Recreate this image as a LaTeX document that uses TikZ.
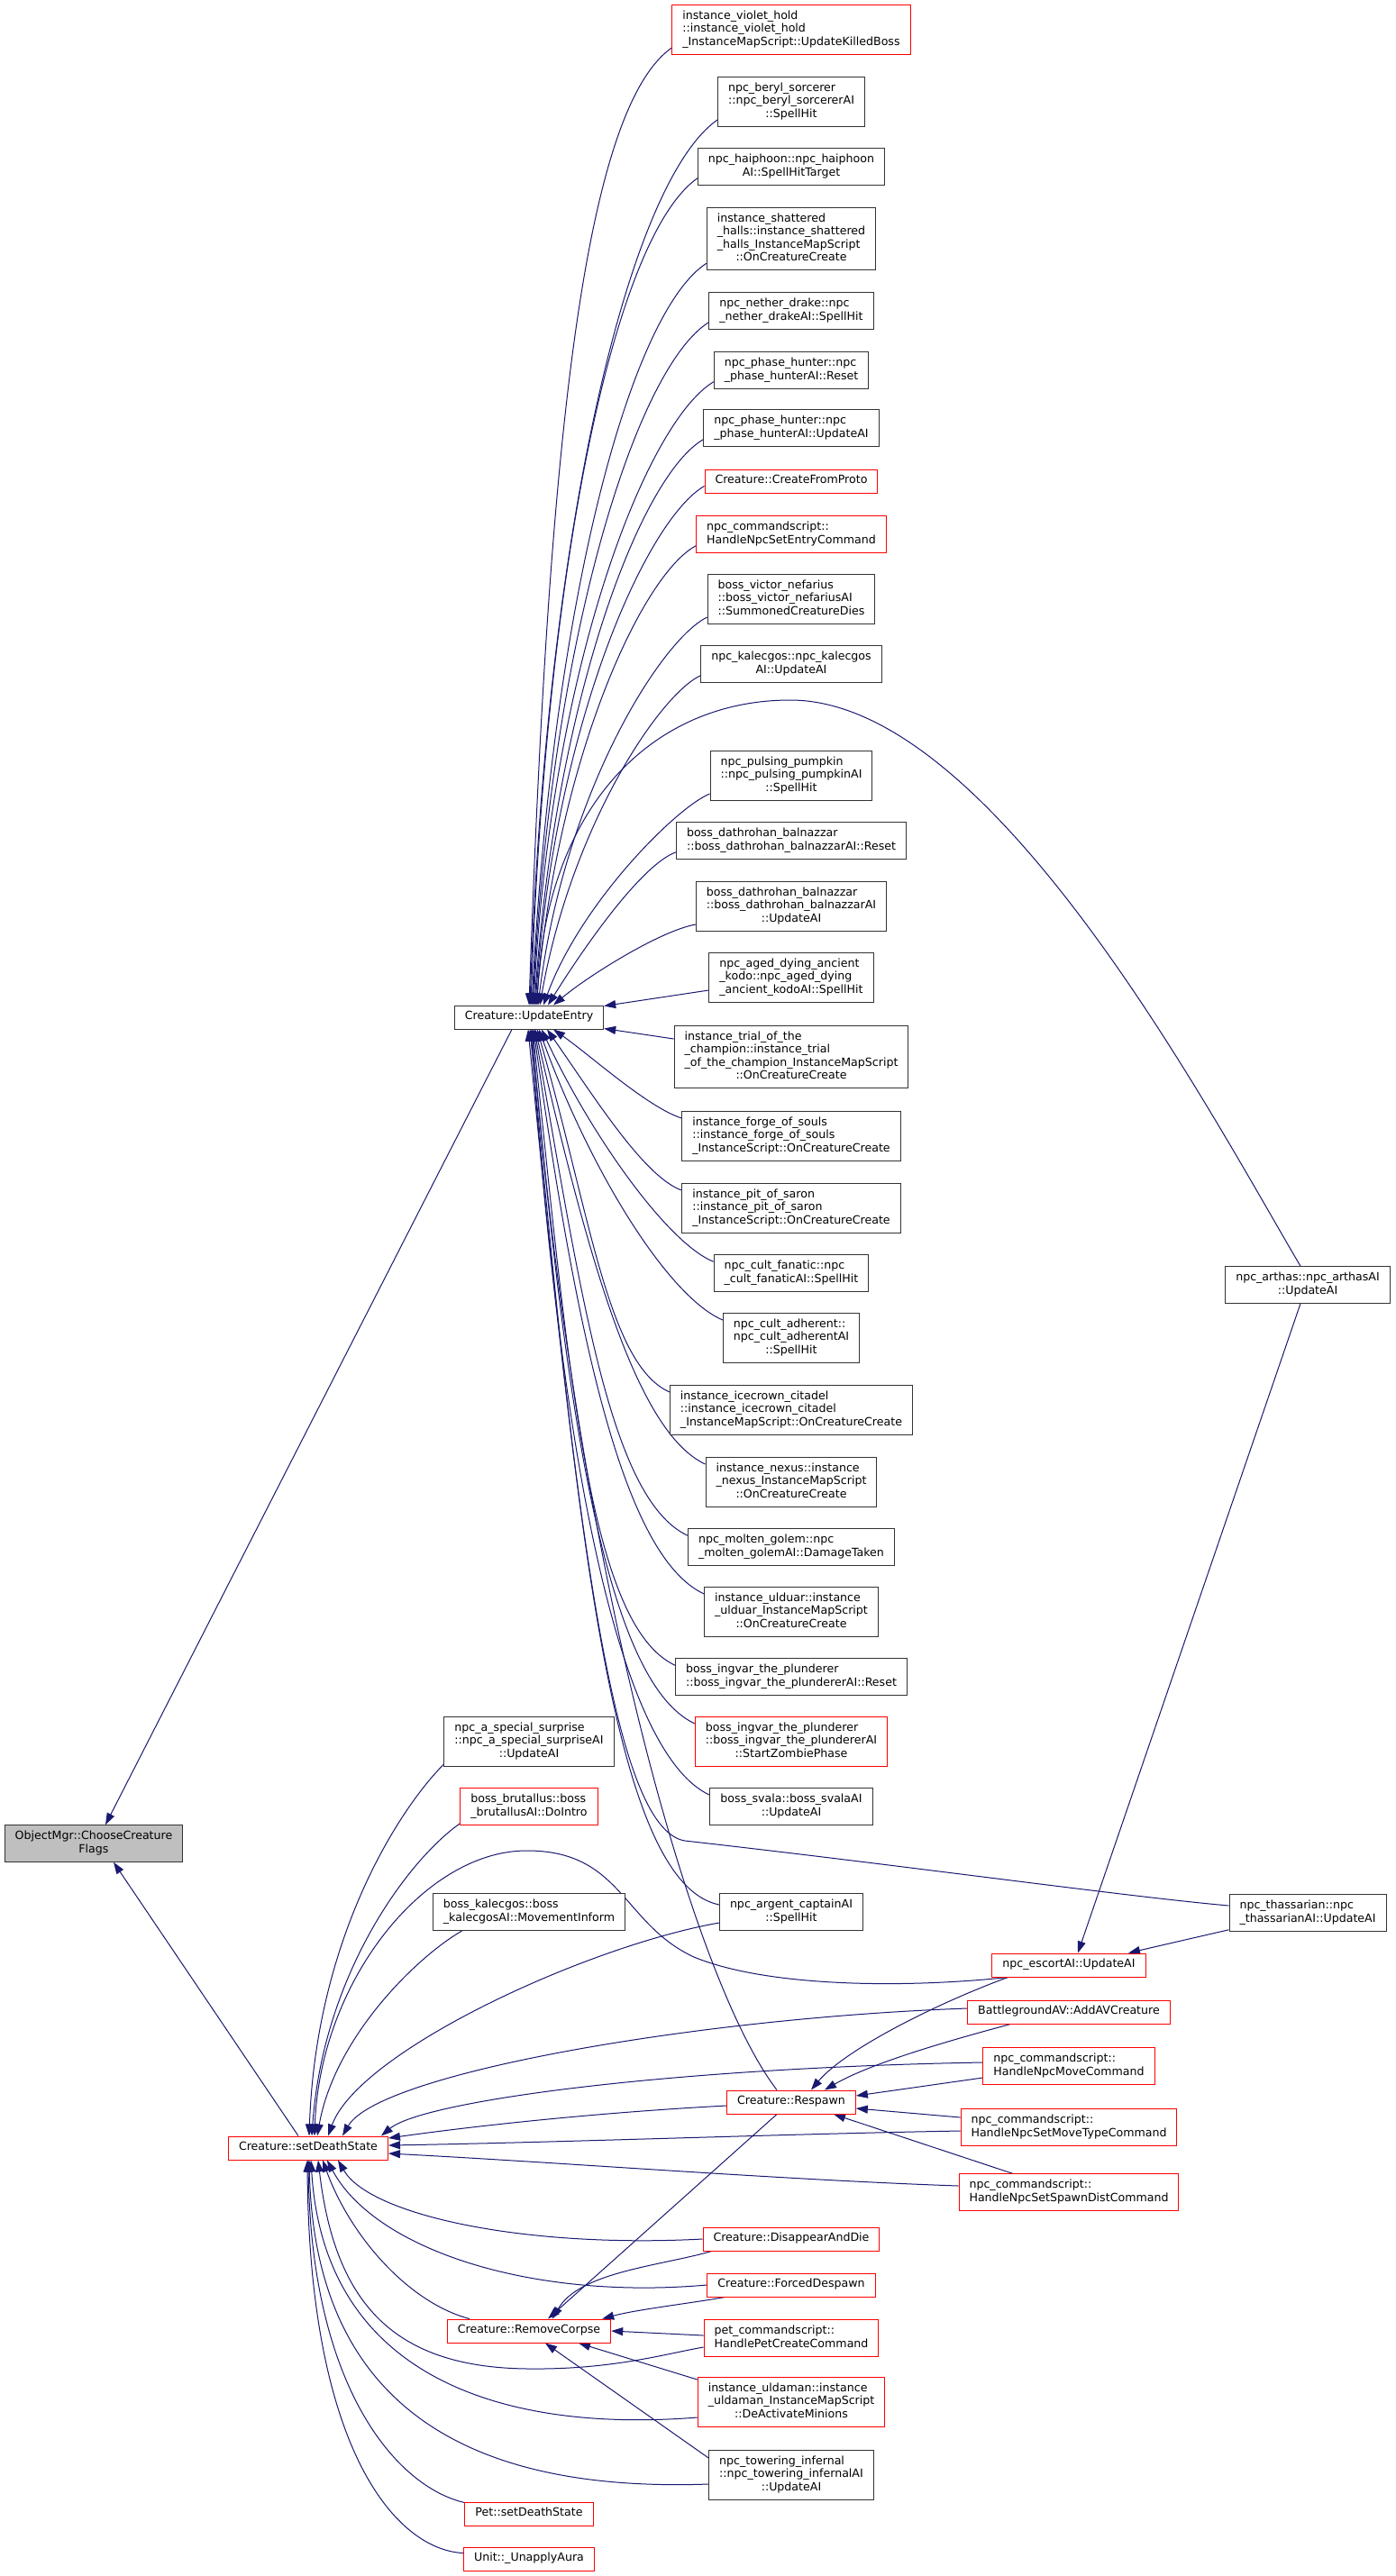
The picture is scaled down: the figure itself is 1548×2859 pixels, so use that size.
\documentclass[tikz,border=0pt]{standalone}
\usepackage{fontspec}
\setmainfont{DejaVu Sans}
\usepackage{tikz}
\usetikzlibrary{arrows.meta}
\definecolor{edgeblue}{RGB}{25,25,112}
\definecolor{boxgray}{RGB}{191,191,191}
\definecolor{boxred}{RGB}{255,0,0}
\newcommand{\nodefont}{\fontsize{12.6}{14.5}\selectfont}
\newcommand{\lbl}[1]{\begin{tabular}{@{}l@{}}#1\end{tabular}}
\newcommand{\lastl}[1]{\multicolumn{1}{@{}c@{}}{#1}}
\pgfdeclarelayer{bg}
\pgfsetlayers{bg,main}
\tikzset{
  fn/.style={draw=black!80, line width=1pt, fill=white, inner xsep=11.5pt, inner ysep=5.75pt, font=\nodefont},
  fnred/.style={fn, draw=boxred},
  fnroot/.style={fn, fill=boxgray},
  link/.style={draw=edgeblue, line width=1pt, {Triangle[length=13pt,width=9pt]}-}
}
\begin{document}
\begin{tikzpicture}[x=1pt,y=1pt]
  \useasboundingbox (0,0) rectangle (1548,-2859);
  % ranks 0 to 2
  \node[fnroot] (choose) at (104,-2046) {\lbl{ObjectMgr::ChooseCreature\\\lastl{Flags}}};
  \node[fnred] (setdeath) at (342,-2384) {\lbl{Creature::setDeathState}};
  \node[fn] (updentry) at (587,-1129) {\lbl{Creature::UpdateEntry}};
  \node[fn] (surprise) at (587,-1933) {\lbl{npc\_a\_special\_surprise\\::npc\_a\_special\_surpriseAI\\\lastl{::UpdateAI}}};
  \node[fnred] (brutallus) at (587,-2005) {\lbl{boss\_brutallus::boss\\\lastl{\_brutallusAI::DoIntro}}};
  \node[fn] (kalecmove) at (587,-2122) {\lbl{boss\_kalecgos::boss\\\lastl{\_kalecgosAI::MovementInform}}};
  \node[fnred] (removecorpse) at (587,-2587) {\lbl{Creature::RemoveCorpse}};
  \node[fnred] (petdeath) at (587,-2790) {\lbl{Pet::setDeathState}};
  \node[fnred] (unapply) at (587,-2840) {\lbl{Unit::\_UnapplyAura}};
  % rank 3
  \node[fnred] (violet) at (878,-33) {\lbl{instance\_violet\_hold\\::instance\_violet\_hold\\\lastl{\_InstanceMapScript::UpdateKilledBoss}}};
  \node[fn] (beryl) at (878,-113) {\lbl{npc\_beryl\_sorcerer\\::npc\_beryl\_sorcererAI\\\lastl{::SpellHit}}};
  \node[fn] (haiphoon) at (878,-185) {\lbl{npc\_haiphoon::npc\_haiphoon\\\lastl{AI::SpellHitTarget}}};
  \node[fn] (shattered) at (878,-265) {\lbl{instance\_shattered\\\_halls::instance\_shattered\\\_halls\_InstanceMapScript\\\lastl{::OnCreatureCreate}}};
  \node[fn] (nether) at (878,-345) {\lbl{npc\_nether\_drake::npc\\\lastl{\_nether\_drakeAI::SpellHit}}};
  \node[fn] (phasereset) at (878,-411) {\lbl{npc\_phase\_hunter::npc\\\lastl{\_phase\_hunterAI::Reset}}};
  \node[fn] (phaseupd) at (878,-475) {\lbl{npc\_phase\_hunter::npc\\\lastl{\_phase\_hunterAI::UpdateAI}}};
  \node[fnred] (fromproto) at (878,-534) {\lbl{Creature::CreateFromProto}};
  \node[fnred] (setentry) at (878,-593) {\lbl{npc\_commandscript::\\\lastl{HandleNpcSetEntryCommand}}};
  \node[fn] (victor) at (878,-665) {\lbl{boss\_victor\_nefarius\\::boss\_victor\_nefariusAI\\\lastl{::SummonedCreatureDies}}};
  \node[fn] (kalecupd) at (878,-737) {\lbl{npc\_kalecgos::npc\_kalecgos\\\lastl{AI::UpdateAI}}};
  \node[fn] (pumpkin) at (878,-861) {\lbl{npc\_pulsing\_pumpkin\\::npc\_pulsing\_pumpkinAI\\\lastl{::SpellHit}}};
  \node[fn] (dathreset) at (878,-933) {\lbl{boss\_dathrohan\_balnazzar\\\lastl{::boss\_dathrohan\_balnazzarAI::Reset}}};
  \node[fn] (dathupd) at (878,-1006) {\lbl{boss\_dathrohan\_balnazzar\\::boss\_dathrohan\_balnazzarAI\\\lastl{::UpdateAI}}};
  \node[fn] (kodo) at (878,-1085) {\lbl{npc\_aged\_dying\_ancient\\\_kodo::npc\_aged\_dying\\\lastl{\_ancient\_kodoAI::SpellHit}}};
  \node[fn] (trial) at (878,-1173) {\lbl{instance\_trial\_of\_the\\\_champion::instance\_trial\\\_of\_the\_champion\_InstanceMapScript\\\lastl{::OnCreatureCreate}}};
  \node[fn] (forge) at (878,-1261) {\lbl{instance\_forge\_of\_souls\\::instance\_forge\_of\_souls\\\lastl{\_InstanceScript::OnCreatureCreate}}};
  \node[fn] (saron) at (878,-1341) {\lbl{instance\_pit\_of\_saron\\::instance\_pit\_of\_saron\\\lastl{\_InstanceScript::OnCreatureCreate}}};
  \node[fn] (fanatic) at (878,-1413) {\lbl{npc\_cult\_fanatic::npc\\\lastl{\_cult\_fanaticAI::SpellHit}}};
  \node[fn] (adherent) at (878,-1485) {\lbl{npc\_cult\_adherent::\\npc\_cult\_adherentAI\\\lastl{::SpellHit}}};
  \node[fn] (icecrown) at (878,-1565) {\lbl{instance\_icecrown\_citadel\\::instance\_icecrown\_citadel\\\lastl{\_InstanceMapScript::OnCreatureCreate}}};
  \node[fn] (nexus) at (878,-1645) {\lbl{instance\_nexus::instance\\\_nexus\_InstanceMapScript\\\lastl{::OnCreatureCreate}}};
  \node[fn] (golem) at (878,-1717) {\lbl{npc\_molten\_golem::npc\\\lastl{\_molten\_golemAI::DamageTaken}}};
  \node[fn] (ulduar) at (878,-1789) {\lbl{instance\_ulduar::instance\\\_ulduar\_InstanceMapScript\\\lastl{::OnCreatureCreate}}};
  \node[fn] (ingvarreset) at (878,-1861) {\lbl{boss\_ingvar\_the\_plunderer\\\lastl{::boss\_ingvar\_the\_plundererAI::Reset}}};
  \node[fnred] (ingvarzombie) at (878,-1933) {\lbl{boss\_ingvar\_the\_plunderer\\::boss\_ingvar\_the\_plundererAI\\\lastl{::StartZombiePhase}}};
  \node[fn] (svala) at (878,-2005) {\lbl{boss\_svala::boss\_svalaAI\\\lastl{::UpdateAI}}};
  \node[fn] (argent) at (878,-2122) {\lbl{npc\_argent\_captainAI\\\lastl{::SpellHit}}};
  \node[fnred] (respawn) at (878,-2333) {\lbl{Creature::Respawn}};
  \node[fnred] (disappear) at (878,-2485) {\lbl{Creature::DisappearAndDie}};
  \node[fnred] (despawn) at (878,-2536) {\lbl{Creature::ForcedDespawn}};
  \node[fnred] (petcreate) at (878,-2595) {\lbl{pet\_commandscript::\\\lastl{HandlePetCreateCommand}}};
  \node[fnred] (uldaman) at (878,-2666) {\lbl{instance\_uldaman::instance\\\_uldaman\_InstanceMapScript\\\lastl{::DeActivateMinions}}};
  \node[fn] (infernal) at (878,-2747) {\lbl{npc\_towering\_infernal\\::npc\_towering\_infernalAI\\\lastl{::UpdateAI}}};
  % ranks 4 and 5
  \node[fnred] (escort) at (1186,-2181) {\lbl{npc\_escortAI::UpdateAI}};
  \node[fnred] (addav) at (1186,-2233) {\lbl{BattlegroundAV::AddAVCreature}};
  \node[fnred] (npcmove) at (1186,-2293) {\lbl{npc\_commandscript::\\\lastl{HandleNpcMoveCommand}}};
  \node[fnred] (movetype) at (1186,-2361) {\lbl{npc\_commandscript::\\\lastl{HandleNpcSetMoveTypeCommand}}};
  \node[fnred] (spawndist) at (1186,-2433) {\lbl{npc\_commandscript::\\\lastl{HandleNpcSetSpawnDistCommand}}};
  \node[fn] (arthas) at (1451,-1426) {\lbl{npc\_arthas::npc\_arthasAI\\\lastl{::UpdateAI}}};
  \node[fn] (thassarian) at (1451,-2123) {\lbl{npc\_thassarian::npc\\\lastl{\_thassarianAI::UpdateAI}}};
  \begin{pgfonlayer}{bg}
  \fill[white] (0,0) rectangle (1548,-2859);
  % callers of Creature::UpdateEntry
  \foreach \src/\dx/\ao/\ai/\D/\E in {violet/0/88/215/585/125, beryl/1/88/215/540/118, haiphoon/2/88/215/505/110,
      shattered/3/87/213/453/100, nether/4/87/212/417/93, phasereset/5/87/211/381/86, phaseupd/6/86/210/346/79,
      fromproto/7/86/210/317/73, setentry/8/85/208/281/66, victor/10/83/206/237/57, kalecupd/12/80/205/202/50,
      pumpkin/16/70/202/120/40, dathreset/21/58/200/80/40, dathupd/27/40/190/50/40}
    \draw[link] ([xshift=\dx pt]updentry.north) .. controls +(\ao:\D) and +(\ai:\E) .. ([yshift=8pt]\src.south west);
  \foreach \src/\dx/\ao/\ai/\D/\E in {forge/27/-35/162/50/40, saron/20/-55/160/90/45, fanatic/14/-65/158/130/55,
      adherent/11/-70/157/170/65, icecrown/9/-74/156/215/75, nexus/7/-77/155/260/85, golem/6/-80/155/300/95,
      ulduar/5/-82/155/340/100, ingvarreset/4/-84/155/385/105, ingvarzombie/3/-85/155/420/110, svala/2/-86/155/460/115}
    \draw[link] ([xshift=\dx pt]updentry.south) .. controls +(\ao:\D) and +(\ai:\E) .. ([yshift=-8pt]\src.north west);
  \draw[link] ([yshift=-1pt]updentry.north east) -- ([yshift=-14pt]kodo.west);
  \draw[link] ([yshift=1pt]updentry.south east) -- ([yshift=20pt]trial.west);
  \draw[link] ([xshift=9pt]updentry.north) .. controls (605,-900) and (720,-777) .. (877,-777)
    .. controls (1100,-777) and (1340,-1230) .. ([xshift=-8pt]arthas.north);
  \draw[link] ([xshift=-1pt]updentry.south) .. controls (640,-1700) and (680,-2030) .. (760,-2043)
    .. controls (1000,-2070) and (1250,-2105) .. ([yshift=8pt]thassarian.west);
  \draw[link] ([xshift=1pt]updentry.south) .. controls (640,-1700) and (680,-2090) .. ([yshift=8pt]argent.west);
  \draw[link] ([xshift=3pt]updentry.south) .. controls (640,-1750) and (770,-2200) .. ([xshift=-16pt]respawn.north);
  % callers of ObjectMgr::ChooseCreatureFlags
  \draw[link] ([xshift=13pt]choose.north) -- ([xshift=-19pt]updentry.south);
  \draw[link] ([xshift=22pt]choose.south) -- ([xshift=-11pt]setdeath.north);
  % callers of Creature::setDeathState
  \draw[link] ([xshift=1pt]setdeath.north) .. controls +(88:220) and +(225:70) .. ([yshift=3pt]surprise.south west);
  \draw[link] ([xshift=4pt]setdeath.north) .. controls +(86:180) and +(215:70) .. ([yshift=2pt]brutallus.south west);
  \draw[link] ([xshift=7pt]setdeath.north) .. controls (355,-2200) and (470,-2055) .. (583,-2054)
    .. controls (690,-2053) and (690,-2135) .. (770,-2172) .. controls (850,-2205) and (1000,-2207) .. ([xshift=18pt]escort.south west);
  \draw[link] ([xshift=10pt]setdeath.north) .. controls +(80:110) and +(210:60) .. ([xshift=33pt]kalecmove.south west);
  \draw[link] ([xshift=22pt]setdeath.north) .. controls +(70:100) and +(190:150) .. ([yshift=-12pt]argent.west);
  \draw[link] ([xshift=38pt]setdeath.north) .. controls +(60:80) and +(182:300) .. ([yshift=4pt]addav.west);
  \draw[link] ([xshift=-8pt]setdeath.north east) .. controls +(40:60) and +(181:350) .. ([yshift=4pt]npcmove.west);
  \draw[link] ([yshift=11pt]setdeath.east) .. controls +(8:120) and +(183:120) .. ([yshift=-4pt]respawn.west);
  \draw[link] ([yshift=3pt]setdeath.east) .. controls +(1:200) and +(181:200) .. ([yshift=-4pt]movetype.west);
  \draw[link] ([yshift=-6pt]setdeath.east) .. controls +(-3:200) and +(178:200) .. ([yshift=7pt]spawndist.west);
  \draw[link] ([xshift=33pt]setdeath.south) .. controls +(-60:70) and +(183:200) .. (disappear.west);
  \draw[link] ([xshift=21pt]setdeath.south) .. controls +(-62:110) and +(185:200) .. (despawn.west);
  \draw[link] ([xshift=16pt]setdeath.south) .. controls +(-70:90) and +(165:70) .. ([xshift=25pt]removecorpse.north west);
  \draw[link] ([xshift=11pt]setdeath.south) .. controls (372,-2560) and (440,-2628) .. (587,-2629)
    .. controls (680,-2630) and (740,-2612) .. ([yshift=-10pt]petcreate.west);
  \draw[link] ([xshift=3pt]setdeath.south) .. controls (360,-2640) and (560,-2700) .. ([yshift=-17pt]uldaman.west);
  \draw[link] ([xshift=1pt]setdeath.south) .. controls (350,-2700) and (560,-2765) .. ([yshift=-10pt]infernal.west);
  \draw[link] (setdeath.south) .. controls (345,-2650) and (440,-2760) .. ([yshift=-1pt]petdeath.north west);
  \draw[link] ([xshift=-1pt]setdeath.south) .. controls (343,-2720) and (440,-2830) .. ([yshift=-7pt]unapply.north west);
  % callers of Creature::RemoveCorpse
  \draw[link] ([xshift=21pt]removecorpse.north) -- ([xshift=-16pt]respawn.south);
  \draw[link] ([xshift=26pt]removecorpse.north) .. controls +(60:60) and +(196:60) .. ([xshift=10pt]disappear.south west);
  \draw[link] ([xshift=-10pt]removecorpse.north east) .. controls +(15:40) and +(190:40) .. ([xshift=20pt]despawn.south west);
  \draw[link] (removecorpse.east) -- ([yshift=3pt]petcreate.west);
  \draw[link] ([xshift=55pt]removecorpse.south) -- ([yshift=-3pt]uldaman.north west);
  \draw[link] ([xshift=18pt]removecorpse.south) -- ([yshift=-9pt]infernal.north west);
  % callers of Creature::Respawn
  \draw[link] ([xshift=22pt]respawn.north) .. controls +(50:60) and +(200:80) .. ([xshift=18pt]escort.south west);
  \draw[link] ([xshift=37pt]respawn.north) .. controls +(30:60) and +(195:70) .. ([xshift=48pt]addav.south west);
  \draw[link] ([yshift=7pt]respawn.east) -- ([yshift=-13pt]npcmove.west);
  \draw[link] ([yshift=-7pt]respawn.east) -- ([yshift=11pt]movetype.west);
  \draw[link] ([xshift=47pt]respawn.south) -- ([xshift=60pt]spawndist.north west);
  % callers of npc_escortAI::UpdateAI
  \draw[link] ([xshift=10pt]escort.north) -- ([xshift=-8pt]arthas.south);
  \draw[link] ([xshift=66pt]escort.north) -- ([yshift=2pt]thassarian.south west);
  \end{pgfonlayer}
\end{tikzpicture}
\end{document}
